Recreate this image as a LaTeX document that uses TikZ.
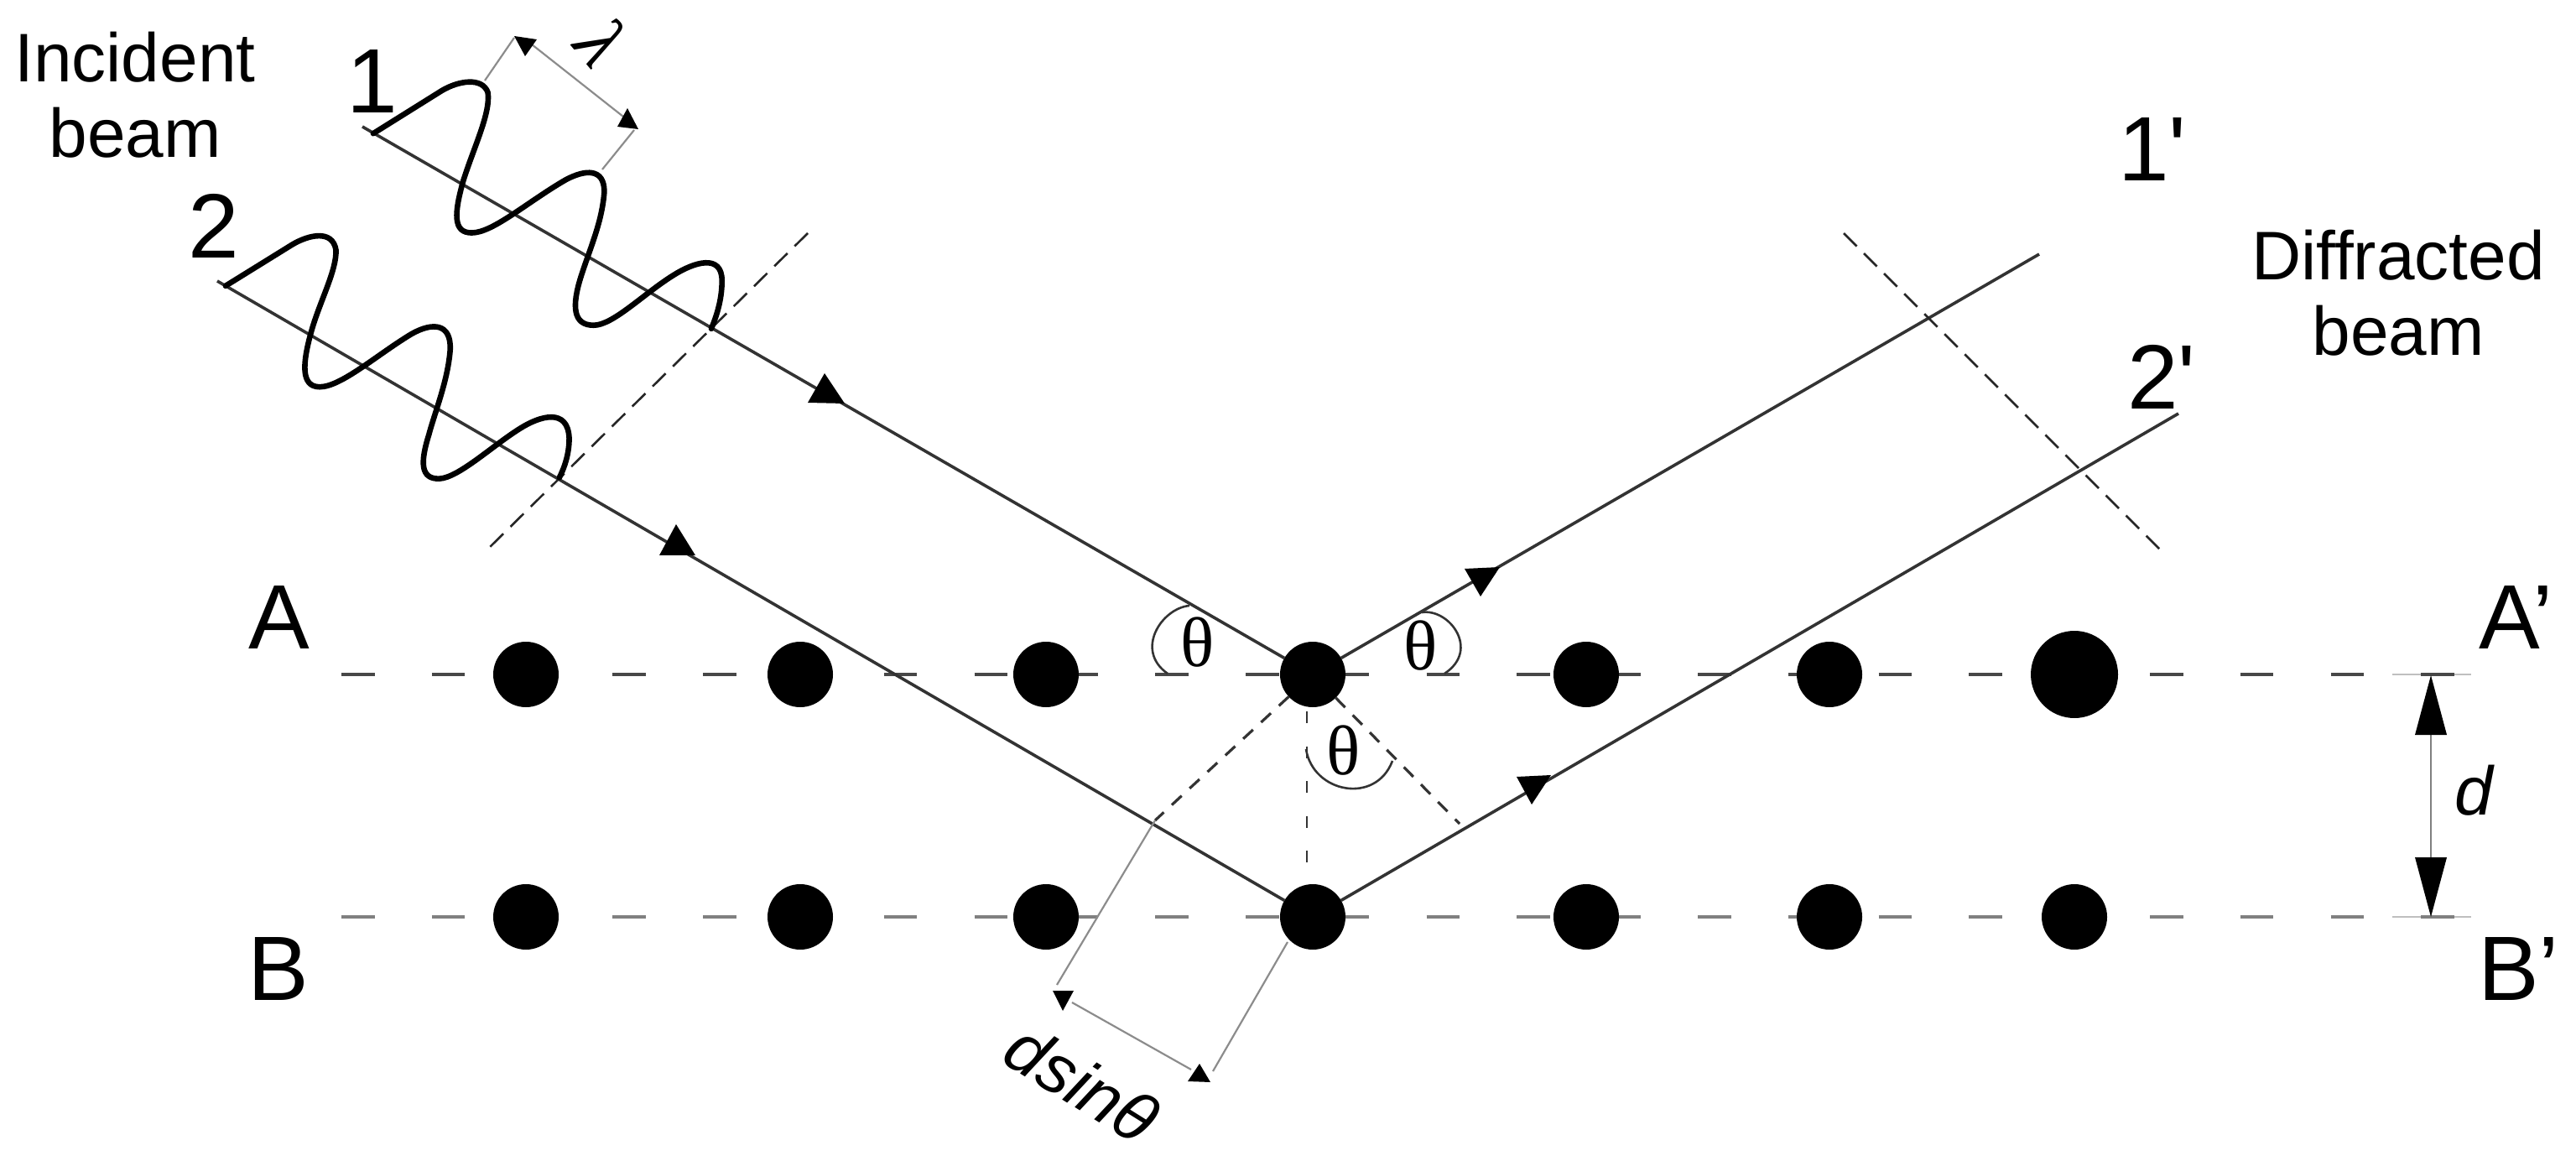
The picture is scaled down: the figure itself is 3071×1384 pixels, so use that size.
\documentclass[tikz,border=0pt]{standalone}
\usepackage{fontspec}
\setmainfont{Liberation Sans}
\newfontfamily\plainsans{Liberation Sans}
\newfontfamily\thetaserif{Liberation Serif}
\tikzset{
  x=0.5pt,y=-0.5pt,
  atom/.style={circle,fill=black,draw=none,inner sep=0pt,outer sep=0pt,minimum size=39pt},
  bigatom/.style={atom,minimum size=52pt},
  rowA/.style={draw=black!72,line width=1.7pt,dash pattern=on 19.75pt off 34.15pt},
  rowB/.style={draw=black!50,line width=1.7pt,dash pattern=on 19.75pt off 34.15pt},
  tickline/.style={draw=black!25,line width=1.3pt},
  beamline/.style={draw=black!80,line width=1.8pt},
  wave/.style={draw=black,line width=3.3pt,line cap=round,line join=round},
  frontdash/.style={draw=black!85,line width=1.3pt,dash pattern=on 11pt off 6pt},
  pathdash/.style={draw=black!80,line width=1.6pt,dash pattern=on 8pt off 6.5pt},
  vertdash/.style={draw=black!80,line width=1.4pt,dash pattern=on 7pt off 13.8pt},
  thinline/.style={draw=black!45,line width=1.1pt},
  anglearc/.style={draw=black!80,line width=1.3pt},
  tip/.style={fill=black,draw=none},
  label/.style={anchor=base,inner sep=0pt,outer sep=0pt,font=\fontsize{41}{45}\selectfont},
  biglabel/.style={label,font=\fontsize{54.5}{60}\selectfont},
  theta/.style={inner sep=0pt,outer sep=0pt,font=\fontsize{42}{46}\selectfont\thetaserif},
}
\begin{document}
\begin{tikzpicture}
\useasboundingbox (0,0) rectangle (3071,1384);
% lattice rows (beneath the atoms)
\coordinate (Astart) at (407,804);  \coordinate (Aend) at (2930,804);
\coordinate (Bstart) at (407,1093); \coordinate (Bend) at (2930,1093);
\coordinate (Atick1) at (2852,804);  \coordinate (Atick2) at (2946,804);
\coordinate (Btick1) at (2852,1093); \coordinate (Btick2) at (2946,1093);
\draw[tickline] (Atick1) -- (Atick2);
\draw[tickline] (Btick1) -- (Btick2);
\draw[rowA] (Astart) -- (Aend);
\draw[rowB] (Bstart) -- (Bend);
% atoms
\node[atom] (a1) at (627,804) {};
\node[atom] (a2) at (954,804) {};
\node[atom] (a3) at (1247,804) {};
\node[atom] (a4) at (1565,804) {};
\node[atom] (a5) at (1891,804) {};
\node[atom] (a6) at (2181,804) {};
\node[bigatom] (a7) at (2473,804) {};
\node[atom] (b1) at (627,1093) {};
\node[atom] (b2) at (954,1093) {};
\node[atom] (b3) at (1247,1093) {};
\node[atom] (b4) at (1565,1093) {};
\node[atom] (b5) at (1891,1093) {};
\node[atom] (b6) at (2181,1093) {};
\node[atom] (b7) at (2473,1093) {};
% beams
\coordinate (s1) at (432,151);
\coordinate (s2) at (259,335);
\coordinate (e1) at (2431,303);
\coordinate (e2) at (2597,493);
\draw[beamline] (s1) -- (a4);
\draw[beamline] (s2) -- (b4);
\draw[beamline] (a4) -- (e1);
\draw[beamline] (b4) -- (e2);
% wave fronts
\coordinate (fl1) at (963,278); \coordinate (fl2) at (577,659);
\coordinate (fr1) at (2198,278); \coordinate (fr2) at (2582,662);
\draw[frontdash] (fl1) -- (fl2);
\draw[frontdash] (fr1) -- (fr2);
% waves
\begin{scope}[shift={(200,0)},x=0.2551pt,y=-0.20408pt]
\draw[wave] (480,390) -- (640,265) .. controls (680,235) and (735,225) .. (748,270)
  .. controls (755,330) and (715,430) .. (690,530)
  .. controls (670,620) and (665,680) .. (710,680)
  .. controls (760,680) and (840,590) .. (930,525)
  .. controls (975,495) and (1020,490) .. (1020,560)
  .. controls (1015,650) and (985,730) .. (965,810)
  .. controls (945,890) and (945,950) .. (995,950)
  .. controls (1040,950) and (1110,860) .. (1180,805)
  .. controls (1230,765) and (1295,740) .. (1295,820)
  .. controls (1295,880) and (1280,930) .. (1270,960);
\draw[wave] (135,835) -- (290,715) .. controls (330,685) and (385,670) .. (393,730)
  .. controls (395,790) and (355,880) .. (335,970)
  .. controls (315,1060) and (310,1130) .. (355,1130)
  .. controls (405,1130) and (490,1035) .. (570,975)
  .. controls (620,940) and (662,945) .. (660,1020)
  .. controls (655,1110) and (625,1200) .. (610,1270)
  .. controls (590,1350) and (590,1400) .. (635,1398)
  .. controls (680,1395) and (760,1300) .. (825,1250)
  .. controls (870,1215) and (935,1190) .. (938,1280)
  .. controls (938,1330) and (925,1370) .. (915,1395);
\end{scope}
% beam arrowheads
\fill[tip] (983,445) -- (1007,481) -- (963,480) -- cycle;
\fill[tip] (806,625) -- (829,662) -- (786,662) -- cycle;
\fill[tip] (1746,678) -- (1788,676) -- (1765,711) -- cycle;
\fill[tip] (1808,926) -- (1849,924) -- (1826,959) -- cycle;
% path-difference construction
\coordinate (p1) at (1377,978);
\coordinate (p2) at (1740,982);
\coordinate (v1) at (1558,848); \coordinate (v2) at (1558,1030);
\draw[pathdash] (a4) -- (p1);
\draw[pathdash] (a4) -- (p2);
\draw[vertdash] (v1) -- (v2);
% angle arcs
\coordinate (t1a) at (1418,722); \coordinate (t1b) at (1392,803);
\coordinate (t2a) at (1695,730); \coordinate (t2b) at (1722,803);
\coordinate (t3a) at (1557,893); \coordinate (t3b) at (1660,907);
\draw[anglearc] (t1a) .. controls (1385,725) and (1352,775) .. (t1b);
\draw[anglearc] (t2a) .. controls (1728,725) and (1765,775) .. (t2b);
\draw[anglearc] (t3a) .. controls (1565,945) and (1640,960) .. (t3b);
\node[theta] (th1) at (1428,766) {θ};
\node[theta] (th2) at (1694,770) {θ};
\node[theta] (th3) at (1602,895) {θ};
% dsin dimension
\coordinate (x1) at (1260,1174); \coordinate (x2) at (1446,1277); \coordinate (x3) at (1535,1123);
\coordinate (dm1) at (1278,1195); \coordinate (dm2) at (1420,1275);
\draw[thinline] (p1) -- (x1);
\draw[thinline] (x3) -- (x2);
\draw[thinline] (dm1) -- (dm2);
\fill[tip] (1255,1181) -- (1280,1181) -- (1267,1205) -- cycle;
\fill[tip] (1430,1268) -- (1443,1290) -- (1416,1289) -- cycle;
\node[label,anchor=center,rotate=-32] (dsin) at (1290,1291) {\itshape dsinθ};
% lambda dimension
\coordinate (l1) at (578,96); \coordinate (l2) at (613,45);
\coordinate (l3) at (718,202); \coordinate (l4) at (756,155);
\coordinate (l5) at (634,53); \coordinate (l6) at (743,139);
\draw[thinline] (l1) -- (l2);
\draw[thinline] (l3) -- (l4);
\draw[thinline] (l5) -- (l6);
\fill[tip] (613,43) -- (640,47) -- (626,67) -- cycle;
\fill[tip] (748,129) -- (761,154) -- (736,151) -- cycle;
\node[inner sep=0pt,rotate=-50,font=\fontsize{45}{48}\selectfont\thetaserif\itshape] (lam) at (718,50) {λ};
% d dimension
\coordinate (d1) at (2898,870); \coordinate (d2) at (2898,1028);
\draw[draw=black!50,line width=1.1pt] (d1) -- (d2);
\fill[tip] (2898,805) -- (2917,876) -- (2879,876) -- cycle;
\fill[tip] (2898,1093) -- (2917,1022) -- (2879,1022) -- cycle;
\node[label,anchor=base west] (dlab) at (2926,971) {\itshape d};
% labels
\node[label,align=center] (inc) at (161,188) {Incident\\beam};
\node[label,align=center] (dif) at (2859,424) {Diffracted\\beam};
\node[biglabel] (n1) at (444,135) {1};
\node[biglabel] (n2) at (255,308) {2};
\node[biglabel,anchor=base west] (n1p) at (2525,216) {\plainsans 1'};
\node[biglabel,anchor=base west] (n2p) at (2536,488) {\plainsans 2'};
\node[biglabel] (lA) at (333,773) {A};
\node[biglabel] (lB) at (332,1192) {B};
\node[biglabel,anchor=base west] (lAp) at (2955,773) {A’};
\node[biglabel,anchor=base west] (lBp) at (2954,1192) {B’};
% the reference's picture stops short of its right edge
\fill[white] (3045,0) rectangle (3071,1384);
\end{tikzpicture}
\end{document}
